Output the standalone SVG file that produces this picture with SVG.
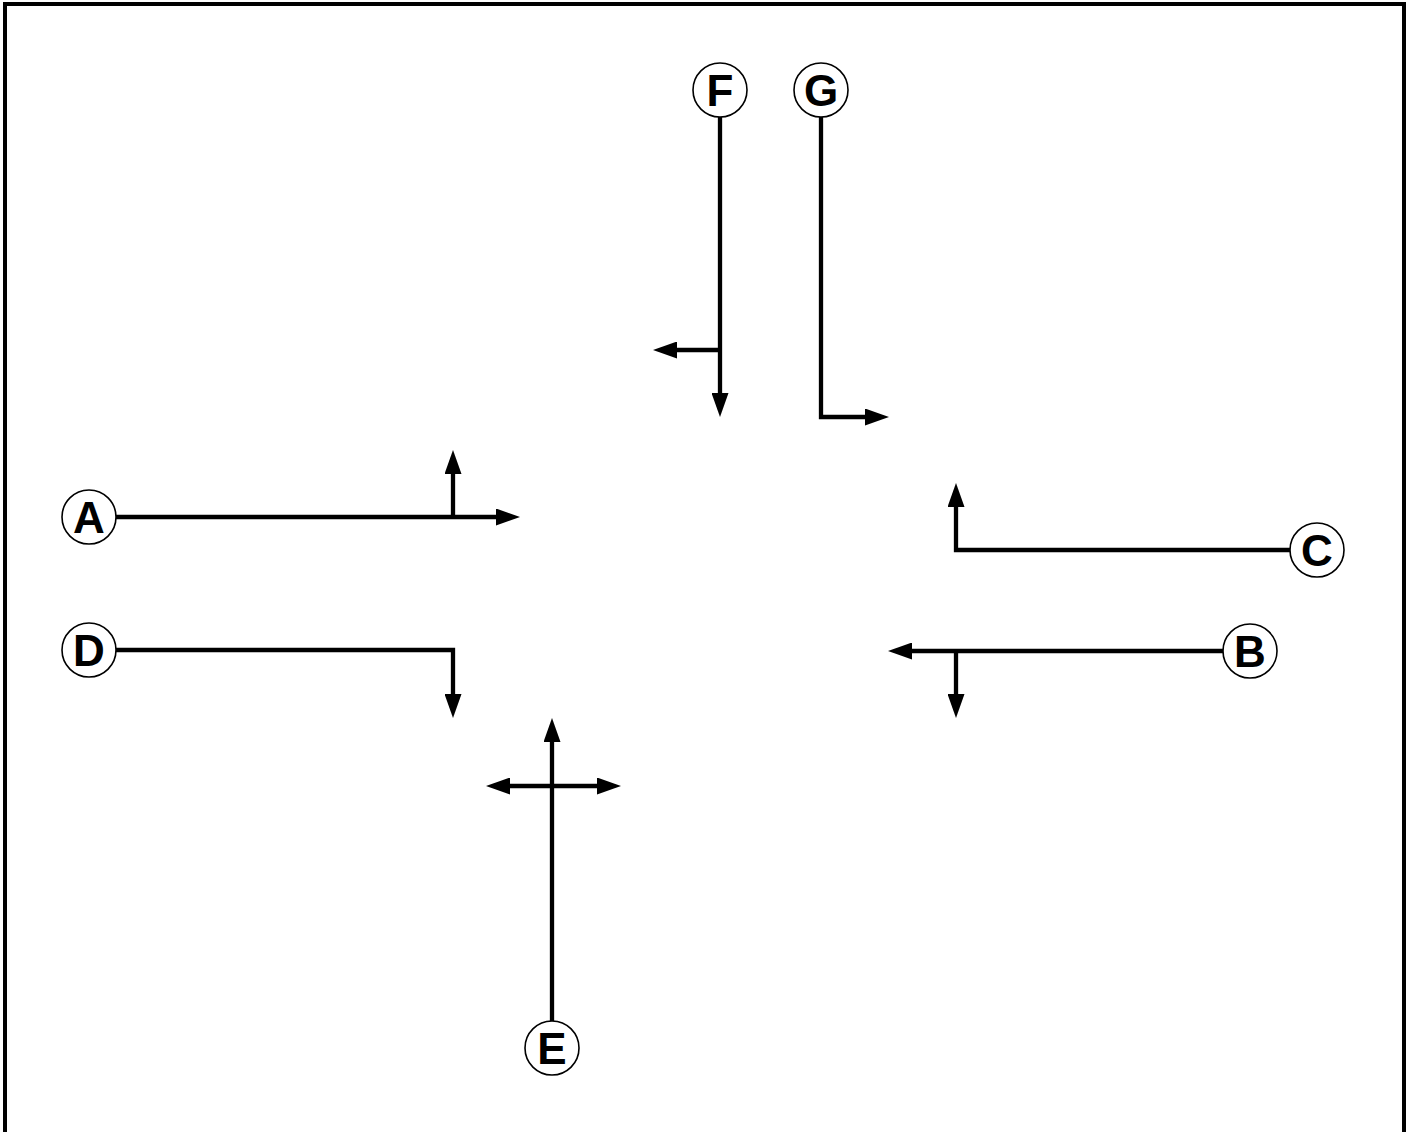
<svg xmlns="http://www.w3.org/2000/svg" width="1415" height="1132" viewBox="0 0 1415 1132">
<style>
.c{fill:#fff;stroke:#000;stroke-width:1.6}
.t{font-family:"Liberation Sans",Arial,sans-serif;font-weight:bold;font-size:44px;fill:#000;text-anchor:middle}
.l{fill:none;stroke:#000;stroke-width:4.3;stroke-linejoin:miter}
.a{marker-end:url(#ah)}
</style>
<defs>
<marker id="ah" markerUnits="userSpaceOnUse" markerWidth="24" markerHeight="17" refX="14" refY="8.5" orient="auto-start-reverse" viewBox="0 0 24 17">
<path d="M0,0 L24,8.5 L0,17 z" fill="#000"/>
</marker>
</defs>
<rect width="1415" height="1132" fill="#fff"/>
<path d="M5,1132 V4 H1404 V1132" fill="none" stroke="#000" stroke-width="4"/>
<g id="connectors">
<path class="l a" d="M116,517 H510"/>
<path class="l a" d="M453,519 V460"/>
<path class="l a" d="M116,650 H453 V708"/>
<path class="l a" d="M720,117 V407"/>
<path class="l a" d="M722,350 H663"/>
<path class="l a" d="M821,117 V417 H879"/>
<path class="l a" d="M1290,550 H956 V493"/>
<path class="l a" d="M1223,651 H898"/>
<path class="l a" d="M956,649 V708"/>
<path class="l a" d="M552,1021 V728"/>
<path class="l" d="M496,786 H611" marker-start="url(#ah)" marker-end="url(#ah)"/>
</g>
<g id="A"><circle class="c" cx="89" cy="517" r="27"/><text class="t" x="89" y="533">A</text></g>
<g id="B"><circle class="c" cx="1250" cy="651" r="27"/><text class="t" x="1250" y="667">B</text></g>
<g id="C"><circle class="c" cx="1317" cy="550" r="27"/><text class="t" x="1317" y="566">C</text></g>
<g id="D"><circle class="c" cx="89" cy="650" r="27"/><text class="t" x="89" y="666">D</text></g>
<g id="E"><circle class="c" cx="552" cy="1048" r="27"/><text class="t" x="552" y="1064">E</text></g>
<g id="F"><circle class="c" cx="720" cy="90" r="27"/><text class="t" x="720" y="106">F</text></g>
<g id="G"><circle class="c" cx="821" cy="90" r="27"/><text class="t" x="821" y="106">G</text></g>
</svg>
